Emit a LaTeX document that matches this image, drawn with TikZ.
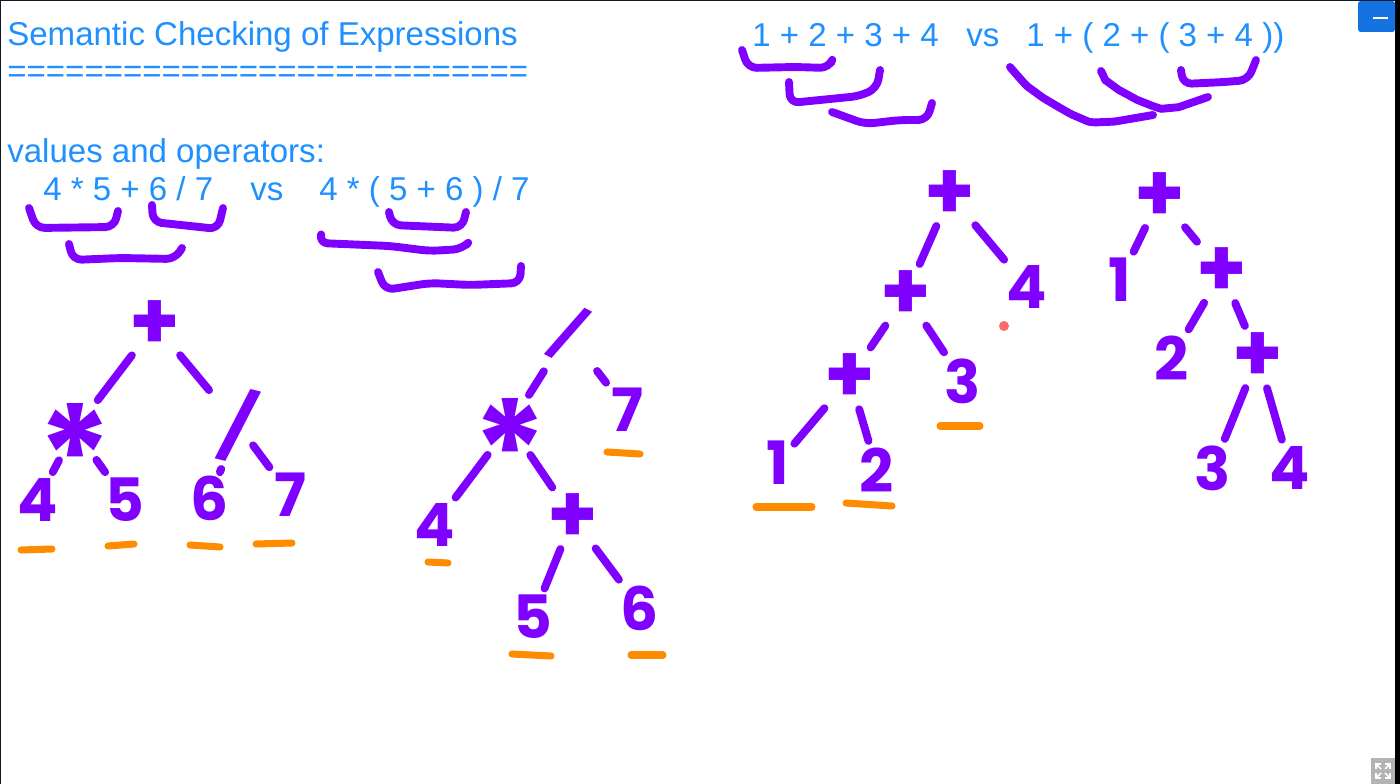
\documentclass[tikz,border=0pt]{standalone}
\usepackage{fontspec}
\setmainfont{Liberation Sans}
\newfontfamily\hand{Poppins}
\usetikzlibrary{arrows.meta}
\definecolor{inkP}{HTML}{8000FF}
\definecolor{inkO}{HTML}{FF8C00}
\definecolor{textB}{HTML}{1E90FF}
\definecolor{dotR}{HTML}{FF6B6B}
\definecolor{frameD}{HTML}{0E1A26}
\definecolor{btnB}{HTML}{1473E0}
\definecolor{iconG}{HTML}{B3B3B3}
\tikzset{
  say/.style={anchor=base west, inner sep=0pt, text=textB, font=\fontsize{18.8}{22}\selectfont},
  sym/.style={inner sep=1pt, outer sep=0pt, text=inkP, font=\hand\bfseries\fontsize{34}{34}\selectfont},
  plus/.style={sym, font=\hand\bfseries\fontsize{46}{46}\selectfont},
  star/.style={sym, font=\hand\bfseries\fontsize{80}{80}\selectfont},
  slash/.style={sym, font=\hand\bfseries\fontsize{34}{34}\selectfont},
  link/.style={draw=inkP, line width=4.5pt, line cap=round, shorten <=3pt, shorten >=3pt},
  brk/.style={draw=inkP, line width=4.5pt, line cap=round, line join=round, rounded corners=5pt},
  uline/.style={draw=inkO, line width=4pt, line cap=round},
  btn/.style={fill=btnB, minimum width=0.74cm, minimum height=0.62cm, inner sep=0pt, rounded corners=1.5pt},
}
\newcommand\starglyph{\raisebox{-0.55em}[0.17em][0.17em]{*}}
\newcommand\slashglyph[1]{\rotatebox[origin=c]{#1}{/}}
\begin{document}
\begin{tikzpicture}[x=0.02cm, y=-0.02cm]
\useasboundingbox (0,0) rectangle (1400,784);
\fill[frameD] (0,0) rectangle (1400,784);
\fill[white] (1.5,1.5) rectangle (1395,784);
\fill[black] (1395,0) rectangle (1400,784);

\node[say] (title) at (7,46) {Semantic Checking of Expressions};
\node[say] (rule) at (7,83) {===========================};
\node[say] (intro) at (7,162) {values and operators:};
\node[say] (exprL) at (43,200) {4 * 5 + 6 / 7};
\node[say] (vsL) at (250,200) {vs};
\node[say] (exprR) at (319,200) {4 * ( 5 + 6 ) / 7};
\node[say] (sumL) at (752,47) {1 + 2 + 3 + 4};
\node[say] (vsR) at (966,47) {vs};
\node[say] (sumR) at (1026,47) {1 + ( 2 + ( 3 + 4 ))};

\draw[brk] (29,208) -- (36,228) -- (114,227) -- (118,211);
\draw[brk] (152,205) -- (153,222) -- (218,229) -- (223,208);
\draw[brk] (69,244) -- (73,260) -- (120,258) -- (175,259) -- (182,248);
\draw[brk] (389,212) -- (392,225) -- (462,228) -- (466,212);
\draw[brk] (321,235) -- (319,243) -- (390,246) -- (430,251) -- (462,249) -- (466,245);
\draw[brk] (378,272) -- (385,290) -- (430,283) -- (470,285) -- (520,283) -- (521,266);
\draw[brk] (742,50) -- (748,68) -- (795,67) -- (829,68) -- (831,63);
\draw[brk] (789,82) -- (790,103) -- (860,96) -- (877,88) -- (880,70);
\draw[brk] (832,112) -- (865,124) -- (900,120) -- (927,120) -- (932,103);
\draw[brk] plot[smooth] coordinates {(1010,67) (1035,92) (1080,118) (1105,122) (1153,115)};
\draw[brk] plot[smooth] coordinates {(1101,71) (1112,85) (1145,103) (1170,108) (1208,97)};
\draw[brk] (1181,70) -- (1183,84) -- (1225,82) -- (1248,80) -- (1256,60);

\node[plus] (t1root) at (155,325) {+};
\node[star] (t1mul) at (75,430) {\starglyph};
\node[slash, font=\hand\bfseries\fontsize{38}{38}\selectfont] (t1div) at (238,425) {\slashglyph{-14}};
\node[sym] (t1a) at (38,500) {4};
\node[sym] (t1b) at (125,500) {5};
\node[sym] (t1c) at (210,498) {6};
\node[sym] (t1d) at (290,495) {7};
\draw[link] (t1root) -- (t1mul);
\draw[link] (t1root) -- (t1div);
\draw[link] (t1mul) -- (t1a);
\draw[link] (t1mul) -- (t1b);
\draw[link] (t1div) -- (t1c);
\draw[link, shorten <=-10pt] (t1div) -- (t1d);
\draw[uline] (21,550) -- (52,549);
\draw[uline] (108,546) -- (134,544);
\draw[uline] (190,545) -- (220,547);
\draw[uline] (256,544) -- (292,543);

\node[slash, font=\hand\bfseries\fontsize{30}{30}\selectfont] (t2root) at (568,333) {\slashglyph{-28}};
\node[star] (t2mul) at (510,425) {\starglyph};
\node[sym] (t2seven) at (627,410) {7};
\node[sym] (t2four) at (435,525) {4};
\node[plus] (t2plus) at (573,518) {+};
\node[sym] (t2five) at (533,617) {5};
\node[sym] (t2six) at (640,608) {6};
\draw[link] (t2root) -- (t2mul);
\draw[link] (t2root) -- (t2seven);
\draw[link] (t2mul) -- (t2four);
\draw[link] (t2mul) -- (t2plus);
\draw[link] (t2plus) -- (t2five);
\draw[link] (t2plus) -- (t2six);
\draw[uline] (607,452) -- (640,454);
\draw[uline] (428,562) -- (448,563);
\draw[uline] (512,654) -- (551,656);
\draw[uline] (631,655) -- (663,655);

\node[plus] (t3root) at (950,195) {+};
\node[plus] (t3mid) at (906,295) {+};
\node[sym] (t3four) at (1027,287) {4};
\node[plus] (t3low) at (850,378) {+};
\node[sym] (t3three) at (963,381) {3};
\node[sym] (t3one) at (778,463) {1};
\node[sym] (t3two) at (877,470) {2};
\draw[link] (t3root) -- (t3mid);
\draw[link] (t3root) -- (t3four);
\draw[link] (t3mid) -- (t3low);
\draw[link] (t3mid) -- (t3three);
\draw[link] (t3low) -- (t3one);
\draw[link] (t3low) -- (t3two);
\draw[uline] (940,426) -- (980,426);
\draw[uline] (756,507) -- (812,507);
\draw[uline] (846,503) -- (892,506);
\fill[dotR] (1004,326) circle (5);

\node[plus] (t4root) at (1160,197) {+};
\node[sym] (t4one) at (1120,280) {1};
\node[plus] (t4mid) at (1222,272) {+};
\node[sym] (t4two) at (1172,358) {2};
\node[plus] (t4low) at (1258,357) {+};
\node[sym] (t4three) at (1213,468) {3};
\node[sym] (t4four) at (1290,468) {4};
\draw[link] (t4root) -- (t4one);
\draw[link] (t4root) -- (t4mid);
\draw[link] (t4mid) -- (t4two);
\draw[link] (t4mid) -- (t4low);
\draw[link] (t4low) -- (t4three);
\draw[link] (t4low) -- (t4four);

\node[btn] (minus) at (1376.5,16.5) {};
\draw[white, line width=1.3pt] (1373,18) -- (1388,18);
\fill[iconG] (1371,758) rectangle (1395,784);
\foreach \dx/\dy in {-1/-1, 1/-1, -1/1, 1/1}
  \draw[white, line width=0.9pt, -{Straight Barb[length=2pt]}] (1383+2*\dx,771+2*\dy) -- (1383+8*\dx,771+8*\dy);
\end{tikzpicture}
\end{document}
